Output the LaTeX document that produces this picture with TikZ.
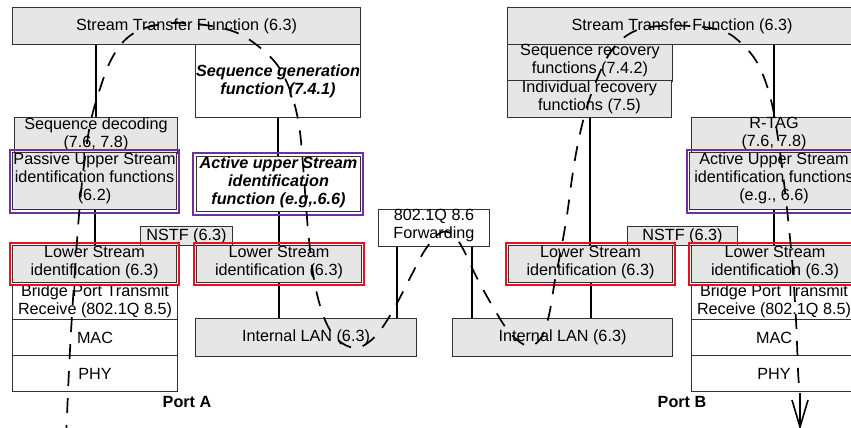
\documentclass[tikz,border=0pt]{standalone}
\usepackage{fontspec}
\setmainfont{Liberation Sans}
\usetikzlibrary{arrows.meta}
\definecolor{boxgray}{RGB}{230,230,230}
\definecolor{edgegray}{RGB}{50,50,50}
\definecolor{idpurple}{RGB}{112,48,160}
\definecolor{idred}{RGB}{232,16,32}
\begin{document}
\begin{tikzpicture}[x=1pt,y=-1pt,
  every node/.style={font=\fontsize{16.2}{18}\selectfont, align=center, inner sep=0pt},
  box/.style 2 args={draw=edgegray, line width=1pt, minimum width=#1pt, minimum height=#2pt, anchor=north west},
  gbox/.style 2 args={box={#1}{#2}, fill=boxgray},
  wbox/.style 2 args={box={#1}{#2}, fill=white},
  raise/.style={execute at end node={\rule[-#1pt]{0pt}{0pt}}},
  bi/.style={font=\fontsize{16.2}{18}\selectfont\bfseries\itshape},
  lbl/.style={font=\fontsize{16.2}{18}\selectfont\bfseries},
  link/.style={line width=2pt, black},
  pframe/.style={draw=idpurple, line width=1.6pt},
  rframe/.style={draw=idred, line width=1.8pt},
  curve/.style={line width=1.7pt, dash pattern=on 15pt off 12pt},
  tiplines/.style={line width=1.6pt, line join=miter}
]
\useasboundingbox (0,0) rectangle (851,428);
\clip (0,0) rectangle (851,428);
\fill[white] (0,0) rectangle (851,428);

% ---------- boxes ----------
\node[gbox={348}{37}] (stfA) at (12,7) {Stream Transfer Function (6.3)};
\node[wbox={165}{73}, bi] (seqgen) at (195,44) {Sequence generation\\function (7.4.1)};
\node[gbox={163}{35}, raise=6] (seqdec) at (14,117) {Sequence decoding\\(7.6, 7.8)};
\node[gbox={164}{57}, raise=9] (passive) at (12,152) {Passive Upper Stream\\identification functions\\(6.2)};
\node[wbox={164}{54}, bi, raise=7] (activeA) at (196,156) {Active upper Stream\\identification\\function (e.g,.6.6)};
\node[gbox={92}{19}] (nstfA) at (140,226) {NSTF (6.3)};
\node[wbox={165}{35}, raise=9] (bridgeA) at (12,284) {Bridge Port Transmit\\Receive (802.1Q 8.5)};
\node[wbox={165}{36}] (macA) at (12,319) {MAC};
\node[wbox={165}{36}] (phyA) at (12,355) {PHY};
\node[gbox={164}{37}, raise=6] (lowA) at (12,245) {Lower Stream\\identification (6.3)};
\node[gbox={165}{37}, raise=6] (lowB) at (196,245) {Lower Stream\\identification (6.3)};
\node[gbox={221}{38}] (lanA) at (195,318) {Internal LAN (6.3)};
\node[wbox={111}{36}, raise=8] (fwd) at (378,209) {802.1Q 8.6\\Forwarding};
\node[gbox={220}{38}] (lanB) at (452,318) {Internal LAN (6.3)};

\node[gbox={349}{37}] (stfB) at (507,7) {Stream Transfer Function (6.3)};
\node[gbox={165}{36}, raise=8] (seqrec) at (507,44) {Sequence recovery\\functions (7.4.2)};
\node[gbox={164}{37}, raise=6] (indrec) at (507,80) {Individual recovery\\functions (7.5)};
\node[gbox={165}{35}, raise=6] (rtag) at (691,117) {R-TAG\\(7.6, 7.8)};
\node[gbox={169}{57}, raise=9] (activeB) at (689,152) {Active Upper Stream\\identification functions\\(e.g., 6.6)};
\node[gbox={110}{19}] (nstfB) at (627,226) {NSTF (6.3)};
\node[wbox={165}{35}, raise=9] (bridgeB) at (691,284) {Bridge Port Transmit\\Receive (802.1Q 8.5)};
\node[wbox={165}{36}] (macB) at (691,319) {MAC};
\node[wbox={165}{36}] (phyB) at (691,355) {PHY};
\node[gbox={164}{37}, raise=6] (lowC) at (508,245) {Lower Stream\\identification (6.3)};
\node[gbox={167}{37}, raise=6] (lowD) at (691,245) {Lower Stream\\identification (6.3)};

% ---------- connectors ----------
\coordinate (fl) at ([xshift=19pt]fwd.south west);
\coordinate (fr) at ([xshift=-18pt]fwd.south east);
\draw[link] (seqdec.north |- stfA.south) -- (seqdec.north);
\draw[link] (passive.south) -- (passive.south |- lowA.north);
\draw[link] (seqgen.south) -- (seqgen.south |- activeA.north);
\draw[link] (activeA.south) -- (activeA.south |- lowB.north);
\draw[link] (lowB.south) -- (lowB.south |- lanA.north);
\draw[link] (fl) -- (fl |- lanA.north);
\draw[link] (fr) -- (fr |- lanB.north);
\draw[link] (indrec.south) -- (indrec.south |- lowC.north);
\draw[link] (lowC.south) -- (lowC.south |- lanB.north);
\draw[link] (rtag.north |- stfB.south) -- (rtag.north);
\draw[link] (activeB.south) -- (activeB.south |- lowD.north);

% ---------- identification frames ----------
\draw[pframe] ([shift={(-2,-2)}]passive.north west) rectangle ([shift={(2,3)}]passive.south east);
\draw[pframe] ([shift={(-3,-3)}]activeA.north west) rectangle ([shift={(2,3)}]activeA.south east);
\draw[pframe] ([shift={(-2,-2)}]activeB.north west) rectangle ([shift={(2,3)}]activeB.south east);
\draw[rframe] ([shift={(-2,-2)}]lowA.north west) rectangle ([shift={(2,2)}]lowA.south east);
\draw[rframe] ([shift={(-2,-2)}]lowB.north west) rectangle ([shift={(2,2)}]lowB.south east);
\draw[rframe] ([shift={(-2,-2)}]lowC.north west) rectangle ([shift={(2,2)}]lowC.south east);
\draw[rframe] ([shift={(-2,-2)}]lowD.north west) rectangle ([shift={(2,2)}]lowD.south east);

% ---------- port labels ----------
\node[lbl] (portA) at (187,402) {Port A};
\node[lbl] (portB) at (682,402) {Port B};

% ---------- frame path ----------
\coordinate (tip) at (800,427);
\draw[curve] plot[smooth, tension=0.6] coordinates {
  (66,440) (69,370) (72,315) (76,255) (80,203) (84,165) (90,125) (98,95)
  (110,62) (125,40) (145,28) (175,23) (205,25) (235,32) (258,46) (278,66)
  (291,93) (299,125) (303,165) (306,205) (309,240) (315,285) (325,320)
  (338,340) (355,348) (369,342) (382,328) (396,305) (410,278) (425,250)
  (440,233) (452,234) (462,247) (476,276) (493,307) (510,333) (528,346)
  (541,338) (549,315) (555,280) (561,250) (567,215) (574,165) (582,125)
  (592,92) (608,56) (626,36) (650,27) (690,26) (723,31) (743,45) (759,66)
  (771,100) (779,145) (786,200) (792,260) (796,320) (798,370) (799,385)};
\draw[tiplines] ([shift={(0,-34)}]tip) -- (tip);
\draw[tiplines] ([shift={(-8,-27)}]tip) -- (tip) -- ([shift={(8,-27)}]tip);
\end{tikzpicture}
\end{document}
